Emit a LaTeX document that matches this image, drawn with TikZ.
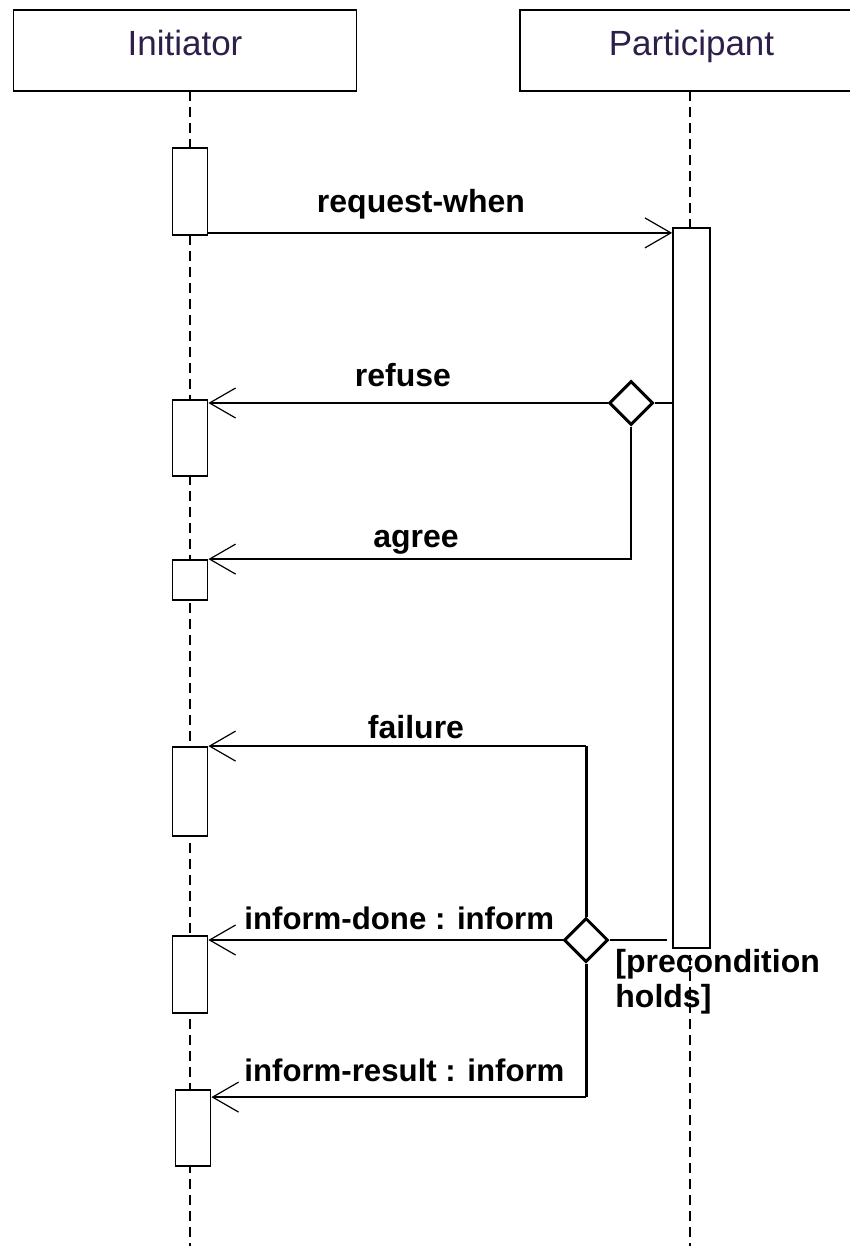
\documentclass[tikz,border=0pt]{standalone}
\usepackage{fontspec}
\setmainfont{Liberation Sans}
\usetikzlibrary{positioning,arrows.meta,shapes.geometric}
\definecolor{rolecol}{HTML}{2E1F4A}

\begin{document}
\begin{tikzpicture}[x=0.5pt, y=-0.5pt,
  rolebox/.style={draw, line width=0.9pt, minimum width=171.5pt, minimum height=40.5pt, inner sep=0pt,
    text height=12.5pt, text depth=7.5pt, text=rolecol, font=\fontsize{17.5}{20}\selectfont},
  lifeline/.style={line width=0.7pt, dash pattern=on 5pt off 3pt},
  actbox/.style={draw, fill=white, line width=0.9pt, minimum width=17.5pt, inner sep=0pt},
  choice/.style={diamond, draw, fill=white, line width=1.5pt, minimum width=22pt, minimum height=22pt, inner sep=0pt},
  msg/.style={line width=0.9pt, -{Straight Barb[length=13pt, width=15pt, line width=0.6pt]}},
  plainline/.style={line width=0.9pt},
  branch/.style={line width=1.5pt},
  lbl/.style={font=\fontsize{16}{17.5}\selectfont\bfseries, inner sep=0pt},
  lbllong/.style={lbl, anchor=west, font=\fontsize{15.6}{17.5}\selectfont\bfseries},
]
\useasboundingbox (0,0) rectangle (850,1246);
\clip (0,0) rectangle (850,1246);

% roles
\node[rolebox] (ini) at (185,50.5) {Initiator};
\node[rolebox] (par) at (691.5,50.5) {Participant};

% lifelines
\draw[lifeline] (190,91) -- (190,1246);
\draw[lifeline] (690,91) -- (690,1246);

% activation bars
\node[actbox, minimum height=43.5pt] (a1) at (190,191.5) {};
\node[actbox, minimum height=38pt]   (a2) at (190,438) {};
\node[actbox, minimum height=20pt]   (a3) at (190,580) {};
\node[actbox, minimum height=44.5pt] (a4) at (190,791.5) {};
\node[actbox, minimum height=38.5pt] (a5) at (190,974.5) {};
\node[actbox, minimum height=38pt]   (a6) at (193,1128) {};
\node[actbox, minimum width=18.5pt, minimum height=360pt] (p1) at (691.5,588) {};

% decision points
\node[choice] (d1) at (631,403) {};
\node[choice] (d2) at (586,940) {};

% request-when
\draw[msg] ([yshift=1.5pt]a1.south east) -- ([yshift=1.5pt]a1.south east -| p1.west);
\node[lbl] (lreq) at (421,204) {request-when};

% refuse / agree
\draw[plainline] (d1 -| p1.west) -- (d1.east);
\draw[msg] (d1.west) -- (d1 -| a2.east);
\node[lbl] (lref) at (403,375) {refuse};
\draw[msg] (d1.south) |- (a3.north east);
\node[lbl] (lagr) at (416,542) {agree};

% failure
\coordinate (fj) at (d2 |- a4.north);
\draw[branch] (d2.north) -- (fj);
\draw[msg] (fj) -- (a4.north east);
\node[lbl] (lfail) at (416,727) {failure};

% inform-done
\draw[plainline] ([xshift=-2.5pt]d2 -| p1.west) -- (d2.east);
\draw[msg] (d2.west) -- (d2 -| a5.east);
\node[lbllong] (ldone) at (244,918) {inform-done : inform};
\node[lbl, anchor=north west, align=left] (lpre) at (615,949) {[precondition\\holds]};

% inform-result
\coordinate (rj) at ([yshift=-4pt]d2 |- a6.north);
\draw[branch] (d2.south) -- (rj);
\draw[msg] (rj) -- (rj -| a6.east);
\node[lbllong] (lres) at (244,1070) {inform-result : inform};
\end{tikzpicture}
\end{document}
